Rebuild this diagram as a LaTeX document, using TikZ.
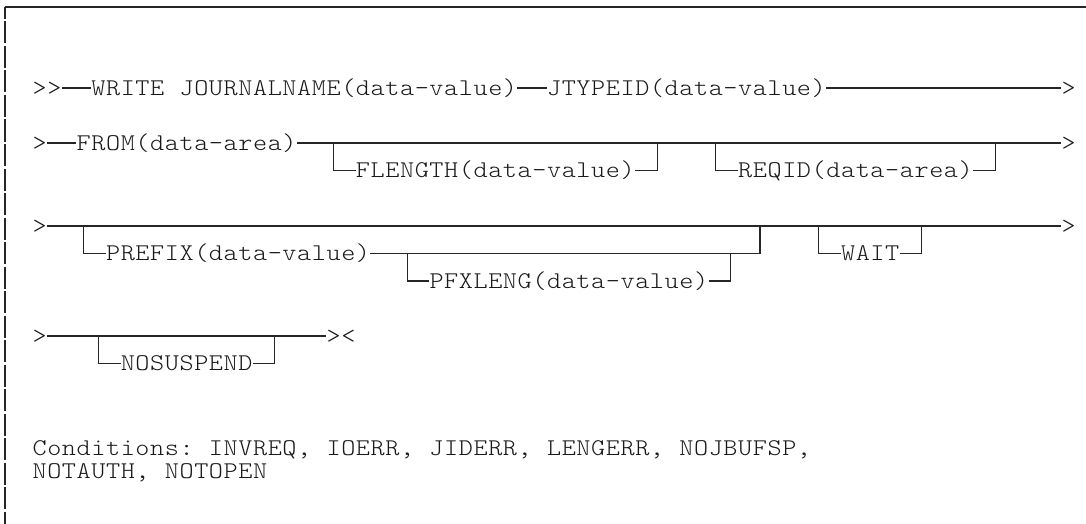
\documentclass[tikz,border=0pt]{standalone}
\usepackage{fontspec}
\newfontfamily\diagfont{lmmonolt10-regular.otf}[FakeStretch=1.12]
\newlength\cellw
\setlength\cellw{14.7pt}
% set a string on a fixed character grid, one cell per character
\ExplSyntaxOn
\NewDocumentCommand \gridtext { m }
  { \str_map_inline:nn {#1} { \makebox [ \cellw ] [ c ] { ##1 } } }
\ExplSyntaxOff

\tikzset{
  lbl/.style={inner sep=0pt, outer sep=0pt, anchor=west,
    text height=14.6pt, text depth=0pt, text=black!90,
    font=\diagfont\fontsize{24pt}{27pt}\selectfont},
  rail/.style={draw=black!85, line width=1.1pt},
  frame/.style={draw=black!85, line width=1.4pt},
}

\begin{document}
\begin{tikzpicture}[x=1pt, y=-1pt]
\useasboundingbox (0,0) rectangle (1086,524);

% frame: top rule and broken left rule
\coordinate (fr-corner) at (5,7);
\coordinate (fr-right) at (1086,7);
\coordinate (fr-bottom) at (5,524);
\draw[frame] (fr-right) -- (fr-corner);
\draw[frame, dash pattern=on 22pt off 2.5pt, dash phase=10pt] (fr-corner) -- (fr-bottom);

\begin{scope}[shift={(32.3pt,0pt)}, x=14.7pt]
% ---- line 1
\node[lbl] (r1a) at (0,88) {\gridtext{>>}};
\node[lbl] (r1b) at (4,88) {\gridtext{WRITE JOURNALNAME(data-value)}};
\node[lbl] (r1c) at (35,88) {\gridtext{JTYPEID(data-value)}};
\node[lbl] (r1d) at (70,88) {\gridtext{>}};
\draw[rail] (r1a.east) -- (r1b.west) (r1b.east) -- (r1c.west) (r1c.east) -- (r1d.west);

% ---- line 2
\node[lbl] (r2a) at (0,143) {\gridtext{>}};
\node[lbl] (r2b) at (3,143) {\gridtext{FROM(data-area)}};
\node[lbl] (r2z) at (70,143) {\gridtext{>}};
\node[lbl] (r2f) at (22,170.5) {\gridtext{FLENGTH(data-value)}};
\node[lbl] (r2r) at (48,170.5) {\gridtext{REQID(data-area)}};
\coordinate (f-in) at (20.5,143);
\coordinate (f-out) at (42.5,143);
\coordinate (q-in) at (46.5,143);
\coordinate (q-out) at (65.5,143);
\draw[rail] (r2a.east) -- (r2b.west);
\draw[rail] (r2b.east) -- (f-in) -- (f-out) -- (q-in) -- (q-out) -- (r2z.west);
\draw[rail] (f-in) |- (r2f.west);
\draw[rail] (r2f.east) -| (f-out);
\draw[rail] (q-in) |- (r2r.west);
\draw[rail] (r2r.east) -| (q-out);

% ---- line 3
\node[lbl] (r3a) at (0,226) {\gridtext{>}};
\node[lbl] (r3z) at (70,226) {\gridtext{>}};
\node[lbl] (r3p) at (5,253.5) {\gridtext{PREFIX(data-value)}};
\node[lbl] (r3x) at (27,281) {\gridtext{PFXLENG(data-value)}};
\node[lbl] (r3w) at (55,253.5) {\gridtext{WAIT}};
\coordinate (p-in) at (3.5,226);
\coordinate (p-out) at (49.5,226);
\coordinate (x-in) at (25.5,253.5);
\coordinate (x-out) at (47.5,253.5);
\coordinate (w-in) at (53.5,226);
\coordinate (w-out) at (60.5,226);
\draw[rail] (r3a.east) -- (p-in) -- (p-out) -- (w-in) -- (w-out) -- (r3z.west);
\draw[rail] (p-in) |- (r3p.west);
\draw[rail] (r3p.east) -- (x-in) -- (x-out) -| (p-out);
\draw[rail] (x-in) |- (r3x.west);
\draw[rail] (r3x.east) -| (x-out);
\draw[rail] (w-in) |- (r3w.west);
\draw[rail] (r3w.east) -| (w-out);

% ---- line 4
\node[lbl] (r4a) at (0,336) {\gridtext{>}};
\node[lbl] (r4z) at (20,336) {\gridtext{><}};
\node[lbl] (r4n) at (6,363.5) {\gridtext{NOSUSPEND}};
\coordinate (n-in) at (4.5,336);
\coordinate (n-out) at (16.5,336);
\draw[rail] (r4a.east) -- (n-in) -- (n-out) -- (r4z.west);
\draw[rail] (n-in) |- (r4n.west);
\draw[rail] (r4n.east) -| (n-out);

% ---- conditions
\node[lbl] (cond1) at (0,448) {\gridtext{Conditions: INVREQ, IOERR, JIDERR, LENGERR, NOJBUFSP,}};
\node[lbl] (cond2) at (0,471) {\gridtext{NOTAUTH, NOTOPEN}};
\end{scope}
\end{tikzpicture}
\end{document}
